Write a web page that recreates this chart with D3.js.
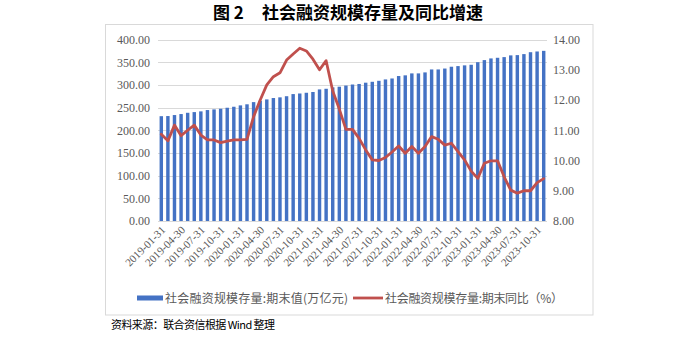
<!DOCTYPE html>
<html><head><meta charset="utf-8">
<script src="https://cdn.jsdelivr.net/npm/d3@7"></script>
<style>body{margin:0;background:#fff}</style>
</head><body><svg id="c" width="700" height="342"></svg>
<script>
const categories = [
"2019-01-31","2019-02-28","2019-03-31","2019-04-30","2019-05-31","2019-06-30","2019-07-31","2019-08-31","2019-09-30","2019-10-31","2019-11-30","2019-12-31",
"2020-01-31","2020-02-29","2020-03-31","2020-04-30","2020-05-31","2020-06-30","2020-07-31","2020-08-31","2020-09-30","2020-10-31","2020-11-30","2020-12-31",
"2021-01-31","2021-02-28","2021-03-31","2021-04-30","2021-05-31","2021-06-30","2021-07-31","2021-08-31","2021-09-30","2021-10-31","2021-11-30","2021-12-31",
"2022-01-31","2022-02-28","2022-03-31","2022-04-30","2022-05-31","2022-06-30","2022-07-31","2022-08-31","2022-09-30","2022-10-31","2022-11-30","2022-12-31",
"2023-01-31","2023-02-28","2023-03-31","2023-04-30","2023-05-31","2023-06-30","2023-07-31","2023-08-31","2023-09-30","2023-10-31","2023-11-30"];
const stockValues = [
231.0,231.3,233.5,235.7,238.5,240.0,241.6,244.5,246.0,247.4,249.6,251.8,
254.8,257.2,262.0,265.0,268.0,271.0,272.5,275.0,279.7,281.0,282.6,284.3,
290.0,291.4,294.5,296.0,298.5,300.8,302.0,304.8,306.8,309.0,312.0,314.1,
319.5,321.0,325.3,325.3,327.5,334.0,334.0,336.0,340.0,341.4,343.0,344.3,
350.0,354.6,358.3,359.7,361.2,365.0,365.6,367.8,372.0,373.6,375.0];
const growthValues = [
10.87,10.65,11.17,10.82,11.00,11.17,10.84,10.68,10.68,10.59,10.64,10.68,
10.68,10.70,11.45,12.00,12.50,12.77,12.90,13.32,13.52,13.71,13.62,13.35,
13.00,13.30,12.30,11.70,11.03,11.03,10.73,10.35,10.02,10.00,10.10,10.28,
10.48,10.24,10.46,10.24,10.46,10.79,10.70,10.51,10.57,10.29,10.02,9.65,
9.41,9.91,9.99,9.99,9.46,9.02,8.92,9.00,9.00,9.27,9.40];
const leftTicks = [0,50,100,150,200,250,300,350,400];
const rightTicks = [8,9,10,11,12,13,14];
const tickLabels = categories.filter((d,i)=>i%3===0);
const seriesNames = ["社会融资规模存量:期末值(万亿元)","社会融资规模存量:期末同比（%）"];
const titleNo = "图 2";
const titleText = "社会融资规模存量及同比增速";
const sourceText = "资料来源：联合资信根据 Wind 整理";

const svg = d3.select("#c");
const gray = "#595959";
const serif = "'Liberation Serif','Times New Roman',serif";
const cjk = "'Noto Sans CJK SC','Liberation Serif',sans-serif";

// frame
svg.append("rect").attr("x",105.5).attr("y",24.5).attr("width",487.5).attr("height",290.5)
  .attr("fill","none").attr("stroke","#d9d9d9").attr("stroke-width",1);

// title
svg.append("text").attr("x",213).attr("y",19).attr("font-family",cjk).attr("font-weight","bold")
  .attr("font-size",17).attr("fill","#000").text(titleNo);
svg.append("text").attr("x",262).attr("y",19).attr("font-family",cjk).attr("font-weight","bold")
  .attr("font-size",17).attr("fill","#000").attr("textLength",221).text(titleText);

const x = d3.scaleBand().domain(categories).range([158,547]).paddingInner(0.48).paddingOuter(0.24);
const yL = d3.scaleLinear().domain([0,400]).range([221,39.5]);
const yR = d3.scaleLinear().domain([8,14]).range([221,39.5]);

// gridlines
svg.append("g").selectAll("line").data(leftTicks).join("line")
  .attr("x1",158).attr("x2",547).attr("y1",d=>Math.round(yL(d))+0.5).attr("y2",d=>Math.round(yL(d))+0.5)
  .attr("stroke","#d9d9d9").attr("stroke-width",1);

// left axis
const gL = svg.append("g").attr("transform","translate(150,0)")
  .call(d3.axisLeft(yL).tickValues(leftTicks).tickFormat(d3.format(".2f")).tickSize(0).tickPadding(0));
gL.select(".domain").remove();
gL.selectAll("text").attr("font-family",serif).attr("font-size",12).attr("fill",gray);

// right axis
const gR = svg.append("g").attr("transform","translate(553,0)")
  .call(d3.axisRight(yR).tickValues(rightTicks).tickFormat(d3.format(".2f")).tickSize(0).tickPadding(0));
gR.select(".domain").remove();
gR.selectAll("text").attr("font-family",serif).attr("font-size",12).attr("fill",gray);

// bars
svg.append("g").selectAll("rect").data(stockValues).join("rect")
  .attr("x",(d,i)=>x(categories[i])).attr("width",x.bandwidth())
  .attr("y",d=>yL(d)).attr("height",d=>yL(0)-yL(d)).attr("fill","#4472C4");

// line
const line = d3.line().x((d,i)=>x(categories[i])+x.bandwidth()/2).y(d=>yR(d));
svg.append("path").datum(growthValues).attr("d",line).attr("fill","none")
  .attr("stroke","#C0504D").attr("stroke-width",2.8).attr("stroke-linejoin","round").attr("stroke-linecap","round");

// x axis labels
const gX = svg.append("g").attr("transform","translate(0,224)")
  .call(d3.axisBottom(x).tickValues(tickLabels).tickSize(0).tickPadding(0));
gX.select(".domain").remove();
gX.selectAll("text").attr("font-family",serif).attr("font-size",11).attr("fill",gray)
  .attr("text-anchor","end").attr("dy","0.35em")
  .attr("transform","translate(2,4) rotate(-45)");

// legend
const lg = svg.append("g");
lg.append("rect").attr("x",137).attr("y",295.5).attr("width",26).attr("height",5).attr("fill","#4472C4");
lg.append("text").attr("x",165).attr("y",302.5).attr("font-family",cjk).attr("font-size",12)
  .attr("fill",gray).attr("textLength",183).text(seriesNames[0]);
lg.append("line").attr("x1",353).attr("x2",383).attr("y1",298).attr("y2",298)
  .attr("stroke","#C0504D").attr("stroke-width",2.8);
lg.append("text").attr("x",385).attr("y",302.5).attr("font-family",cjk).attr("font-size",12)
  .attr("fill",gray).attr("textLength",178).text(seriesNames[1]);

// source
svg.append("text").attr("x",111).attr("y",329).attr("font-family",cjk).attr("font-size",11)
  .attr("fill","#000").attr("textLength",164).text(sourceText);
</script></body></html>
